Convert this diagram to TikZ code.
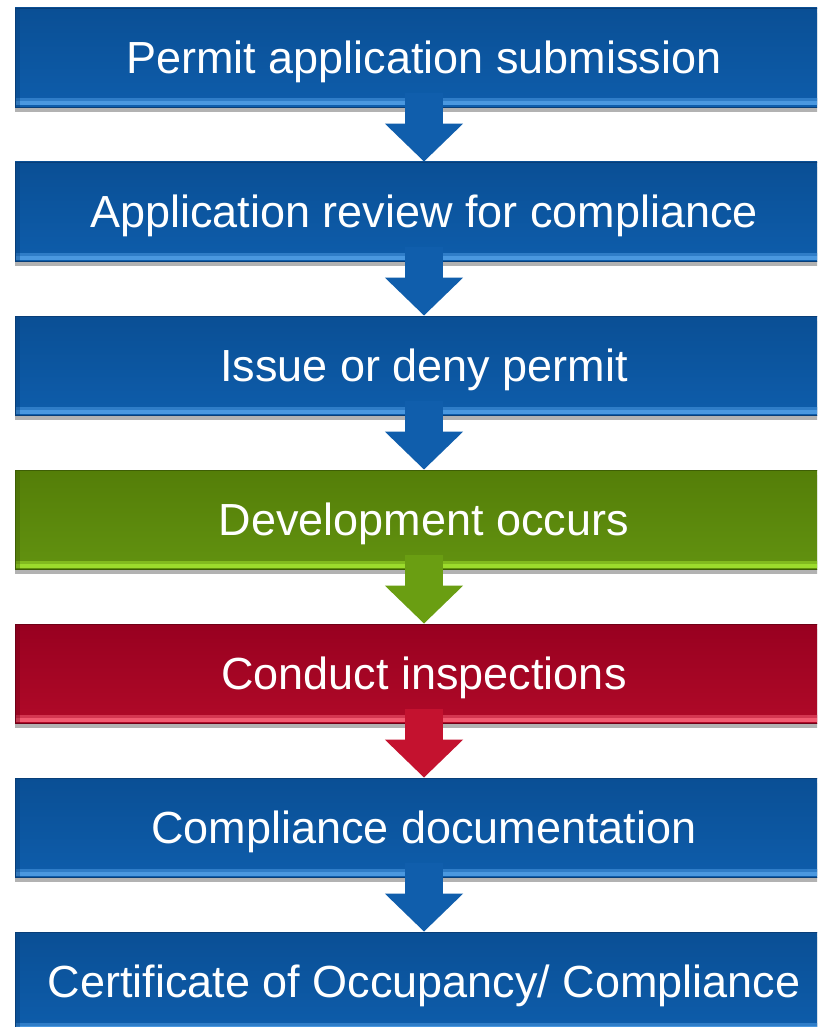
\documentclass[tikz,border=0pt]{standalone}
\usepackage{fontspec}
\setmainfont{Liberation Sans}
\usetikzlibrary{arrows.meta,shadows}
\definecolor{bluetop}{HTML}{0A4F95}
\definecolor{bluemid}{HTML}{0E5DAB}
\definecolor{bluehl}{HTML}{4A98E0}
\definecolor{bluedark}{HTML}{083E78}
\definecolor{bluearr}{HTML}{105EAC}
\definecolor{greentop}{HTML}{547E08}
\definecolor{greenmid}{HTML}{629210}
\definecolor{greenhl}{HTML}{9CDC2C}
\definecolor{greendark}{HTML}{3E5E05}
\definecolor{greenarr}{HTML}{6A9E12}
\definecolor{redtop}{HTML}{980020}
\definecolor{redmid}{HTML}{B00A28}
\definecolor{redhl}{HTML}{F25A70}
\definecolor{reddark}{HTML}{6E0016}
\definecolor{redarr}{HTML}{C4122F}
\tikzset{
  stepbox/.style={rectangle, minimum width=818pt, minimum height=99pt, inner sep=0pt,
    text=white, font=\fontsize{45}{54}\selectfont, text height=32.4pt, text depth=0pt,
    draw=#1dark, line width=0.8pt, top color=#1top, bottom color=#1mid,
    drop shadow={shadow xshift=0pt, shadow yshift=-5pt, opacity=0.3, fill=black},
    path picture={
      \fill[#1hl] ([yshift=1.5pt]path picture bounding box.south west) rectangle ([yshift=5.5pt]path picture bounding box.south east);
      \fill[#1hl!55!#1mid] ([yshift=5.5pt]path picture bounding box.south west) rectangle ([yshift=8.5pt]path picture bounding box.south east);
      \fill[#1dark, opacity=0.35] (path picture bounding box.south west) rectangle ([xshift=5pt]path picture bounding box.north west);
    }},
  flowarrow/.style={line width=38pt, line join=miter,
    -{Triangle[width=76pt,length=38pt,fill=#1arr,color=#1arr]}, color=#1arr}
}
\begin{document}
\begin{tikzpicture}[x=1pt,y=-1pt]
\useasboundingbox (0,0) rectangle (817,1027);
\clip (0,0) rectangle (817,1027);
\fill[white] (0,0) rectangle (817,1027);
\node[stepbox=blue]  (b1) at (424,57.5)  {Permit application submission};
\node[stepbox=blue]  (b2) at (424,211.5) {Application review for compliance};
\node[stepbox=blue]  (b3) at (424,365.5) {Issue or deny permit};
\node[stepbox=green] (b4) at (424,519.5) {Development occurs};
\node[stepbox=red]   (b5) at (424,673.5) {Conduct inspections};
\node[stepbox=blue]  (b6) at (424,827.5) {Compliance documentation};
\node[stepbox=blue]  (b7) at (424,981.5) {Certificate of Occupancy/ Compliance};
\draw[flowarrow=blue]  ([yshift=14pt]b1.south) -- (b2.north);
\draw[flowarrow=blue]  ([yshift=14pt]b2.south) -- (b3.north);
\draw[flowarrow=blue]  ([yshift=14pt]b3.south) -- (b4.north);
\draw[flowarrow=green] ([yshift=14pt]b4.south) -- (b5.north);
\draw[flowarrow=red]   ([yshift=14pt]b5.south) -- (b6.north);
\draw[flowarrow=blue]  ([yshift=14pt]b6.south) -- (b7.north);
\end{tikzpicture}
\end{document}
